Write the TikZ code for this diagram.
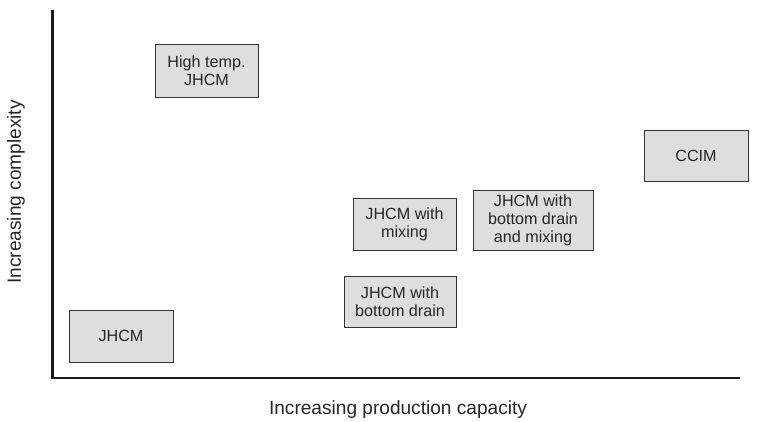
\documentclass[tikz,border=0pt]{standalone}
\usepackage{fontspec}
\setmainfont{Liberation Sans}

\tikzstyle{mth} = [rectangle, draw=black!80, fill=black!13, thin, text centered, align=center, inner sep=2pt, text=black!85, font=\fontsize{13.8}{15.5}\selectfont]
\tikzstyle{axis} = [line width=2.4pt, black!90]
\tikzstyle{lab} = [text=black!85, font=\fontsize{16.3}{18}\selectfont]

\begin{document}
\begin{tikzpicture}[x=0.3mm, y=-0.3mm]
\useasboundingbox (0,0) rectangle (769,422);

%% Methods
\node (hightemp) [mth, minimum width=103*0.3mm, minimum height=53*0.3mm] at (206.5,70.5) {High temp.\\JHCM};
\node (mixing) [mth, minimum width=103*0.3mm, minimum height=52*0.3mm] at (404.5,224) {JHCM with\\mixing};
\node (drainmix) [mth, minimum width=120*0.3mm, minimum height=60*0.3mm] at (533,220) {JHCM with\\bottom drain\\and mixing};
\node (drain) [mth, minimum width=112*0.3mm, minimum height=51*0.3mm] at (400,301.5) {JHCM with\\bottom drain};
\node (jhcm) [mth, minimum width=104*0.3mm, minimum height=52*0.3mm] at (121,336) {JHCM};
\node (ccim) [mth, minimum width=104*0.3mm, minimum height=51*0.3mm] at (696,155.5) {CCIM};

%% Axes
\coordinate (top) at (52.5,10);
\coordinate (origin) at (52.5,378);
\coordinate (right) at (740,378);
\draw [axis] (top) -- (origin) -- (right);

%% Names
\node (xlab) [lab] at (398,410) {Increasing production capacity};
\node (ylab) [lab, rotate=90] at (16,192) {Increasing complexity};
\end{tikzpicture}
\end{document}
